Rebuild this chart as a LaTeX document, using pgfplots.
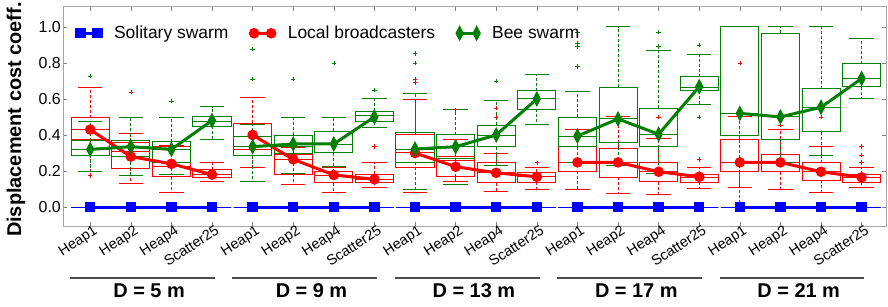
\documentclass[border=0pt]{standalone}
\usepackage{fontspec}
\setmainfont{Liberation Sans}
\usepackage{pgfplots}
\pgfplotsset{compat=1.18}
\usepgfplotslibrary{statistics}
\definecolor{mgreen}{rgb}{0,0.5,0}
\pgfplotsset{
  boxplot/draw direction=y,
  boxplot/draw/lower whisker/.code={%
    \draw[/pgfplots/boxplot/every whisker/.try, dash pattern=on 3bp off 2bp]
      (boxplot box cs:\pgfplotsboxplotvalue{lower quartile},0.5) --
      (boxplot box cs:\pgfplotsboxplotvalue{lower whisker},0.5);
    \draw[/pgfplots/boxplot/every whisker/.try]
      (boxplot whisker cs:\pgfplotsboxplotvalue{lower whisker},0) --
      (boxplot whisker cs:\pgfplotsboxplotvalue{lower whisker},1);
  },
  boxplot/draw/upper whisker/.code={%
    \draw[/pgfplots/boxplot/every whisker/.try, dash pattern=on 3bp off 2bp]
      (boxplot box cs:\pgfplotsboxplotvalue{upper quartile},0.5) --
      (boxplot box cs:\pgfplotsboxplotvalue{upper whisker},0.5);
    \draw[/pgfplots/boxplot/every whisker/.try]
      (boxplot whisker cs:\pgfplotsboxplotvalue{upper whisker},0) --
      (boxplot whisker cs:\pgfplotsboxplotvalue{upper whisker},1);
  },
}
% position, colour, lower whisker, lower quartile, median, upper quartile, upper whisker
\newcommand{\bx}[7]{\addplot[#2, line width=0.9bp, forget plot,
  boxplot prepared={draw direction=y, draw position=#1, lower whisker=#3, lower quartile=#4, median=#5,
  upper quartile=#6, upper whisker=#7, box extend=0.94, whisker extend=0.6}] coordinates {};}
\begin{document}
\begin{tikzpicture}
\begin{axis}[
  scale only axis, width=823bp, height=219bp,
  xmin=0.33, xmax=20.6, ymin=-0.105, ymax=1.11,
  xtick={1,...,20},
  xticklabels={Heap1,Heap2,Heap4,Scatter25,Heap1,Heap2,Heap4,Scatter25,Heap1,Heap2,Heap4,Scatter25,Heap1,Heap2,Heap4,Scatter25,Heap1,Heap2,Heap4,Scatter25},
  ytick={0,0.2,0.4,0.6,0.8,1.0},
  /pgf/number format/assume math mode=true,
  yticklabel style={/pgf/number format/fixed, /pgf/number format/fixed zerofill, /pgf/number format/precision=1, font=\fontsize{16}{18}\selectfont, inner sep=0pt, xshift=-2bp},
  xticklabel style={font=\fontsize{14.5}{16}\selectfont, rotate=33, anchor=north east, inner sep=1pt, xshift=4bp, yshift=1bp},
  tick align=inside, major tick length=4bp,
  tick style={gray, line width=0.6bp},
  axis line style={gray!70, line width=1bp},
  ylabel={\bfseries Displacement cost coeff.},
  ylabel style={font=\fontsize{20}{24}\selectfont, at={(axis description cs:-0.057,0.486)}, anchor=center, rotate=0},
  clip=false,
  legend columns=3,
  legend image code/.code={\draw[#1] plot coordinates {(0bp,0bp) (17bp,0bp)};},
  legend style={at={(axis description cs:0.0164,0.88)}, anchor=west, draw=none, fill=none,
    inner sep=0pt, font=\fontsize{17.5}{20}\selectfont, nodes={inner sep=0pt},
    /tikz/every odd column/.append style={column sep=13bp},
    /tikz/every even column/.append style={column sep=22bp}},
]
% ---- Local broadcasters (red) boxes
\bx{1}{red}{0.20}{0.376}{0.433}{0.496}{0.665}
\bx{2}{red}{0.13}{0.215}{0.31}{0.36}{0.41}
\bx{3}{red}{0.08}{0.168}{0.224}{0.335}{0.34}
\bx{4}{red}{0.14}{0.165}{0.183}{0.206}{0.248}
\bx{5}{red}{0.22}{0.317}{0.394}{0.465}{0.61}
\bx{6}{red}{0.124}{0.183}{0.265}{0.294}{0.33}
\bx{7}{red}{0.08}{0.135}{0.178}{0.196}{0.22}
\bx{8}{red}{0.109}{0.139}{0.154}{0.183}{0.248}
\bx{9}{red}{0.08}{0.22}{0.302}{0.402}{0.598}
\bx{10}{red}{0.14}{0.172}{0.26}{0.28}{0.376}
\bx{11}{red}{0.089}{0.135}{0.19}{0.248}{0.30}
\bx{12}{red}{0.10}{0.137}{0.168}{0.193}{0.22}
\bx{13}{red}{0.098}{0.20}{0.248}{0.335}{0.428}
\bx{14}{red}{0.076}{0.165}{0.248}{0.326}{0.502}
\bx{15}{red}{0.072}{0.14}{0.196}{0.246}{0.378}
\bx{16}{red}{0.104}{0.139}{0.163}{0.183}{0.22}
\bx{17}{red}{0.107}{0.196}{0.248}{0.376}{0.50}
\bx{18}{red}{0.098}{0.196}{0.248}{0.294}{0.428}
\bx{19}{red}{0.081}{0.15}{0.196}{0.246}{0.335}
\bx{20}{red}{0.109}{0.139}{0.163}{0.181}{0.22}
\addplot[red, only marks, mark=+, mark size=2.2bp, mark options={line width=0.5bp}, forget plot] coordinates {
 (1,0.175) (2,0.637) (8,0.335) (9,0.71) (9,0.69) (10,0.54) (11,0.55) (11,0.50) (12,0.246)
 (15,0.50) (16,0.265) (17,0.80) (18,0.456) (19,0.50) (20,0.335) (20,0.29) (20,0.248)};
% ---- Bee swarm (green) boxes
\bx{1}{mgreen}{0.196}{0.287}{0.32}{0.368}{0.476}
\bx{2}{mgreen}{0.174}{0.28}{0.335}{0.368}{0.498}
\bx{3}{mgreen}{0.183}{0.246}{0.32}{0.363}{0.498}
\bx{4}{mgreen}{0.376}{0.45}{0.474}{0.50}{0.557}
\bx{5}{mgreen}{0.14}{0.285}{0.339}{0.394}{0.461}
\bx{6}{mgreen}{0.187}{0.298}{0.339}{0.398}{0.498}
\bx{7}{mgreen}{0.228}{0.302}{0.35}{0.422}{0.498}
\bx{8}{mgreen}{0.443}{0.474}{0.506}{0.533}{0.60}
\bx{9}{mgreen}{0.098}{0.248}{0.317}{0.415}{0.63}
\bx{10}{mgreen}{0.128}{0.267}{0.339}{0.402}{0.544}
\bx{11}{mgreen}{0.233}{0.335}{0.40}{0.454}{0.589}
\bx{12}{mgreen}{0.456}{0.543}{0.60}{0.646}{0.737}
\bx{13}{mgreen}{0.248}{0.335}{0.394}{0.498}{0.644}
\bx{14}{mgreen}{0.23}{0.359}{0.489}{0.665}{1.0}
\bx{15}{mgreen}{0.187}{0.335}{0.404}{0.548}{0.868}
\bx{16}{mgreen}{0.572}{0.646}{0.665}{0.724}{0.844}
\bx{17}{mgreen}{0.0}{0.40}{0.52}{1.0}{1.0}
\bx{18}{mgreen}{0.248}{0.376}{0.50}{0.965}{1.0}
\bx{19}{mgreen}{0.289}{0.419}{0.554}{0.656}{1.0}
\bx{20}{mgreen}{0.60}{0.667}{0.713}{0.796}{0.933}
\addplot[mgreen, only marks, mark=+, mark size=2.2bp, mark options={line width=0.5bp}, forget plot] coordinates {
 (1,0.728) (3,0.589) (5,0.876) (5,0.709) (6,0.709) (7,0.80) (8,0.65) (9,0.853) (9,0.80)
 (11,0.70) (13,0.97) (13,0.91) (13,0.89) (13,0.78) (15,0.97) (15,0.89) (16,0.90) (16,0.50)};
% ---- Solitary swarm (blue) boxes, all zero
\bx{1}{blue}{0}{0}{0}{0}{0}
\bx{2}{blue}{0}{0}{0}{0}{0}
\bx{3}{blue}{0}{0}{0}{0}{0}
\bx{4}{blue}{0}{0}{0}{0}{0}
\bx{5}{blue}{0}{0}{0}{0}{0}
\bx{6}{blue}{0}{0}{0}{0}{0}
\bx{7}{blue}{0}{0}{0}{0}{0}
\bx{8}{blue}{0}{0}{0}{0}{0}
\bx{9}{blue}{0}{0}{0}{0}{0}
\bx{10}{blue}{0}{0}{0}{0}{0}
\bx{11}{blue}{0}{0}{0}{0}{0}
\bx{12}{blue}{0}{0}{0}{0}{0}
\bx{13}{blue}{0}{0}{0}{0}{0}
\bx{14}{blue}{0}{0}{0}{0}{0}
\bx{15}{blue}{0}{0}{0}{0}{0}
\bx{16}{blue}{0}{0}{0}{0}{0}
\bx{17}{blue}{0}{0}{0}{0}{0}
\bx{18}{blue}{0}{0}{0}{0}{0}
\bx{19}{blue}{0}{0}{0}{0}{0}
\bx{20}{blue}{0}{0}{0}{0}{0}
% ---- mean lines
\addplot[blue, line width=3bp, mark=square*, mark size=3.7bp, unbounded coords=jump] coordinates {
 (1,0) (2,0) (3,0) (4,0) (4.5,nan)
 (5,0) (6,0) (7,0) (8,0) (8.5,nan)
 (9,0) (10,0) (11,0) (12,0) (12.5,nan)
 (13,0) (14,0) (15,0) (16,0) (16.5,nan)
 (17,0) (18,0) (19,0) (20,0)};
\addlegendentry{Solitary swarm}
\addplot[red, line width=3bp, mark=*, mark size=3.7bp, unbounded coords=jump] coordinates {
 (1,0.43) (2,0.28) (3,0.24) (4,0.18) (4.5,nan)
 (5,0.40) (6,0.265) (7,0.178) (8,0.154) (8.5,nan)
 (9,0.30) (10,0.224) (11,0.19) (12,0.168) (12.5,nan)
 (13,0.248) (14,0.248) (15,0.196) (16,0.168) (16.5,nan)
 (17,0.248) (18,0.248) (19,0.196) (20,0.165)};
\addlegendentry{Local broadcasters}
\addplot[mgreen, line width=3bp, mark=diamond*, mark size=4.8bp, mark options={xscale=0.7}, unbounded coords=jump] coordinates {
 (1,0.32) (2,0.335) (3,0.32) (4,0.48) (4.5,nan)
 (5,0.335) (6,0.35) (7,0.35) (8,0.50) (8.5,nan)
 (9,0.322) (10,0.335) (11,0.40) (12,0.60) (12.5,nan)
 (13,0.394) (14,0.489) (15,0.404) (16,0.668) (16.5,nan)
 (17,0.52) (18,0.50) (19,0.554) (20,0.713)};
\addlegendentry{Bee swarm}
% ---- group annotations
\draw[black!70, line width=1.5bp] ([yshift=-52bp]axis cs:0.5,-0.105) -- ([yshift=-52bp]axis cs:4.07,-0.105);
\draw[black!70, line width=1.5bp] ([yshift=-52bp]axis cs:4.5,-0.105) -- ([yshift=-52bp]axis cs:8.07,-0.105);
\draw[black!70, line width=1.5bp] ([yshift=-52bp]axis cs:8.5,-0.105) -- ([yshift=-52bp]axis cs:12.07,-0.105);
\draw[black!70, line width=1.5bp] ([yshift=-52bp]axis cs:12.5,-0.105) -- ([yshift=-52bp]axis cs:16.07,-0.105);
\draw[black!70, line width=1.5bp] ([yshift=-52bp]axis cs:16.5,-0.105) -- ([yshift=-52bp]axis cs:20.07,-0.105);
\node[font=\bfseries\fontsize{20}{24}\selectfont, anchor=base] at ([yshift=-71bp]axis cs:2.45,-0.105) {D = 5 m};
\node[font=\bfseries\fontsize{20}{24}\selectfont, anchor=base] at ([yshift=-71bp]axis cs:6.45,-0.105) {D = 9 m};
\node[font=\bfseries\fontsize{20}{24}\selectfont, anchor=base] at ([yshift=-71bp]axis cs:10.45,-0.105) {D = 13 m};
\node[font=\bfseries\fontsize{20}{24}\selectfont, anchor=base] at ([yshift=-71bp]axis cs:14.45,-0.105) {D = 17 m};
\node[font=\bfseries\fontsize{20}{24}\selectfont, anchor=base] at ([yshift=-71bp]axis cs:18.45,-0.105) {D = 21 m};
\end{axis}
\pgfresetboundingbox
\path (current axis.south west) ++(-63bp,-81bp) rectangle ++(888bp,307bp);
\end{tikzpicture}
\end{document}
